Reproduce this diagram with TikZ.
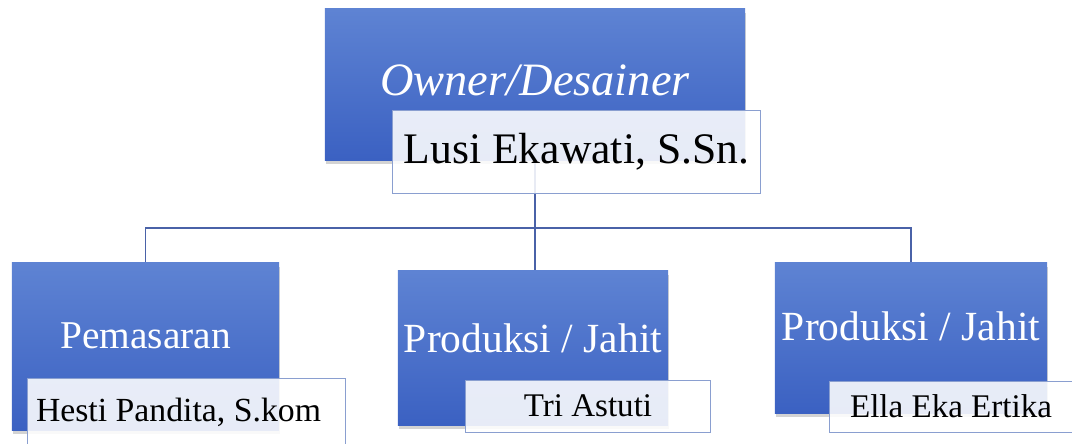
\documentclass[tikz,border=0pt]{standalone}
\usepackage{fontspec}
\setmainfont{Liberation Serif}
\usetikzlibrary{positioning,shadows,backgrounds}
\definecolor{unittop}{HTML}{5E83D3}
\definecolor{unitbottom}{HTML}{3B61C2}
\definecolor{nameline}{HTML}{8A9FD0}
\definecolor{linkblue}{HTML}{4A62A8}

\begin{document}
\begin{tikzpicture}[x=0.025cm,y=-0.025cm]
            \tikzstyle{unit}=[rectangle, inner sep=0pt, top color=unittop, bottom color=unitbottom,
                drop shadow={shadow xshift=0.8pt, shadow yshift=-2.5pt, opacity=0.35}]
            \tikzstyle{unitlabel}=[anchor=base, text=white, inner sep=0pt]
            \tikzstyle{namebox}=[rectangle, draw=nameline, line width=0.7pt, fill=white, fill opacity=0.88,
                text opacity=1, inner sep=2pt]
            \tikzstyle{link}=[draw=linkblue, line width=1.4pt]

            \useasboundingbox (0,0) rectangle (1072,443);

            % top of the chart
            \node[unit, minimum width=10.5cm, minimum height=3.775cm] (owner) at (535,84.5) {};
            \node[unitlabel, font=\fontsize{33}{40}\selectfont\itshape] (ownerlabel)
                at ([yshift=-0.2625cm]owner.center) {Owner/Desainer};
            \node[namebox, minimum width=9.175cm, minimum height=2.075cm, font=\fontsize{31}{37}\selectfont]
                (lusi) at (576.5,151.5) {Lusi Ekawati, S.Sn.};

            % units
            \node[unit, minimum width=6.675cm, minimum height=4.175cm] (pemasaran) at (145.5,346.5) {};
            \node[unitlabel, font=\fontsize{28}{34}\selectfont] (pemasaranlabel)
                at ([yshift=-0.0375cm]pemasaran.center) {Pemasaran};
            \node[namebox, minimum width=7.925cm, minimum height=1.7cm, font=\fontsize{24}{28}\selectfont]
                (hesti) at (186.5,412) {Hesti Pandita, S.kom\kern0.4cm};

            \node[unit, minimum width=6.75cm, minimum height=3.85cm] (produksiA) at (533,348) {};
            \node[unitlabel, font=\fontsize{29.5}{35}\selectfont] (produksiAlabel)
                at ([yshift=-0.1cm]produksiA.center) {Produksi / Jahit};
            \node[namebox, minimum width=6.1cm, minimum height=1.3cm, font=\fontsize{23.5}{28}\selectfont]
                (tri) at (588,406) {Tri Astuti};

            \node[unit, minimum width=6.8cm, minimum height=3.75cm] (produksiB) at (911,338) {};
            \node[unitlabel, font=\fontsize{29.5}{35}\selectfont] (produksiBlabel)
                at ([yshift=-0.05cm]produksiB.center) {Produksi / Jahit};
            \node[namebox, minimum width=6.05cm, minimum height=1.275cm, font=\fontsize{23.5}{28}\selectfont]
                (ella) at (951,406.5) {Ella Eka Ertika};

            \begin{pgfonlayer}{background}
                \draw[link] (owner.south) -- ++(0,68) -| (pemasaran.north);
                \draw[link] (owner.south) -- ++(0,68) -| (produksiB.north);
                \draw[link] (owner.south) -- (owner.south |- produksiA.north);
            \end{pgfonlayer}

        \end{tikzpicture}
\end{document}
